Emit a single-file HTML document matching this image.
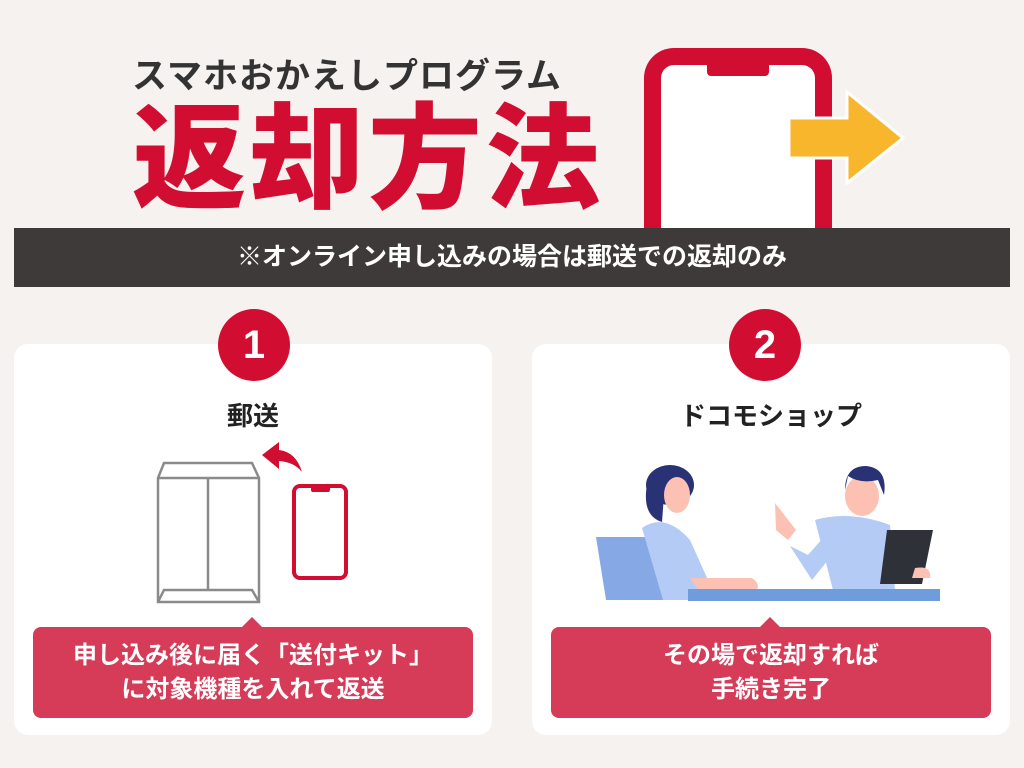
<!DOCTYPE html>
<html><head><meta charset="utf-8"><style>
body{margin:0;width:1024px;height:768px;background:#f6f2ef;position:relative;overflow:hidden;font-family:"Liberation Sans","Noto Sans CJK JP",sans-serif;font-weight:bold}
.a{position:absolute}
.card{position:absolute;top:344px;width:478px;height:391px;background:#fff;border-radius:14px}
.num{position:absolute;top:309px;width:72px;height:72px;border-radius:50%;background:#d20d32;color:#fff;font-size:40px;line-height:72px;text-align:center}
.lab{position:absolute;top:396px;width:478px;text-align:center;font-size:26px;color:#222}
.call{position:absolute;top:627px;height:91px;width:440px;background:#d63b58;border-radius:8px;color:#fff;font-size:24px;line-height:34px;text-align:center;padding-top:12px;box-sizing:border-box}
.call:before{content:"";position:absolute;left:208px;top:-10px;border-left:11px solid transparent;border-right:11px solid transparent;border-bottom:11px solid #d63b58}
</style></head><body>
<div class="a" style="left:132px;top:48px;font-size:35px;color:#333;letter-spacing:1px">スマホおかえしプログラム</div>
<div class="a" style="left:132px;top:96px;font-size:114px;color:#d20d32;font-weight:900;line-height:130px;letter-spacing:4px">返却方法</div>
<svg class="a" style="left:0;top:0" width="1024" height="300">
<path d="M644 228 V78 a30 30 0 0 1 30 -30 H802 a30 30 0 0 1 30 30 V228 Z" fill="#d20d32"/>
<path d="M661 228 V78 a13 13 0 0 1 13 -13 H707 V72 a4 4 0 0 0 4 4 H765 a4 4 0 0 0 4 -4 V65 H802 a13 13 0 0 1 13 13 V228 Z" fill="#fff"/>
<path d="M789 118 H847 V92 L903 138 L847 183 V158 H789 Z" fill="#f8b62d" stroke="#fff" stroke-width="3"/>
</svg>
<div class="a" style="left:14px;top:228px;width:996px;height:59px;background:#3e3a39;color:#fff;font-size:25px;line-height:59px;text-align:center">※オンライン申し込みの場合は郵送での返却のみ</div>
<div class="card" style="left:14px"></div>
<div class="card" style="left:532px"></div>
<div class="num" style="left:218px">1</div>
<div class="num" style="left:729px">2</div>
<div class="lab" style="left:14px">郵送</div>
<div class="lab" style="left:532px">ドコモショップ</div>
<svg class="a" style="left:0;top:0" width="1024" height="768">
<g fill="none" stroke="#8a8a8a" stroke-width="2.5">
<path d="M158 602 V478 L164 463 H252 L259 478 V602 Z M158 478 H259 M208 478 V590 M158 602 L164 590 H252 L259 602"/>
</g>
<rect x="294" y="486" width="52" height="92" rx="6" fill="none" stroke="#d20d32" stroke-width="4"/>
<rect x="311" y="486" width="19" height="6" rx="2" fill="#d20d32"/>
<path d="M262 455 L279 442 L279 450 Q296 452 302 472 Q294 462 279 461 L279 469 Z" fill="#d20d32"/>
<!-- people -->
<path d="M596 537 H648 Q655 537 657 544 L668 600 H606 Z" fill="#86a9e6"/>
<path d="M642 528 Q665 512 690 540 L708 580 L712 600 L663 600 Z" fill="#b3cbf5"/>
<path d="M690 578 L752 578 Q762 585 755 592 L700 592 Z" fill="#fcc1b3"/>
<ellipse cx="670" cy="485" rx="24" ry="20" fill="#283275"/>
<path d="M648 480 Q640 515 662 522 L664 495 Z" fill="#283275"/>
<ellipse cx="677" cy="495" rx="13" ry="18" fill="#fcc1b3"/>
<path d="M815 520 Q850 510 890 525 L895 590 L833 590 Z" fill="#b3cbf5"/>
<path d="M790 546 L812 580 L840 545 L830 530 L808 555 Z" fill="#b3cbf5"/>
<path d="M775 503 L796 530 L788 540 L776 530 Z" fill="#fcc1b3"/>
<ellipse cx="862" cy="496" rx="17" ry="20" fill="#fcc1b3"/>
<path d="M845 490 Q845 466 866 466 Q888 468 884 495 L878 480 Q860 484 848 476 Z" fill="#283275"/>
<path d="M887 530 H933 L922 584 H880 Z" fill="#2e3138"/>
<path d="M915 568 Q932 565 930 578 L912 578 Z" fill="#fcc1b3"/>
<rect x="688" y="589" width="252" height="12" fill="#6e9cdc"/>
</svg>
<div class="call" style="left:33px">申し込み後に届く「送付キット」<br>に対象機種を入れて返送</div>
<div class="call" style="left:551px">その場で返却すれば<br>手続き完了</div>
</body></html>
